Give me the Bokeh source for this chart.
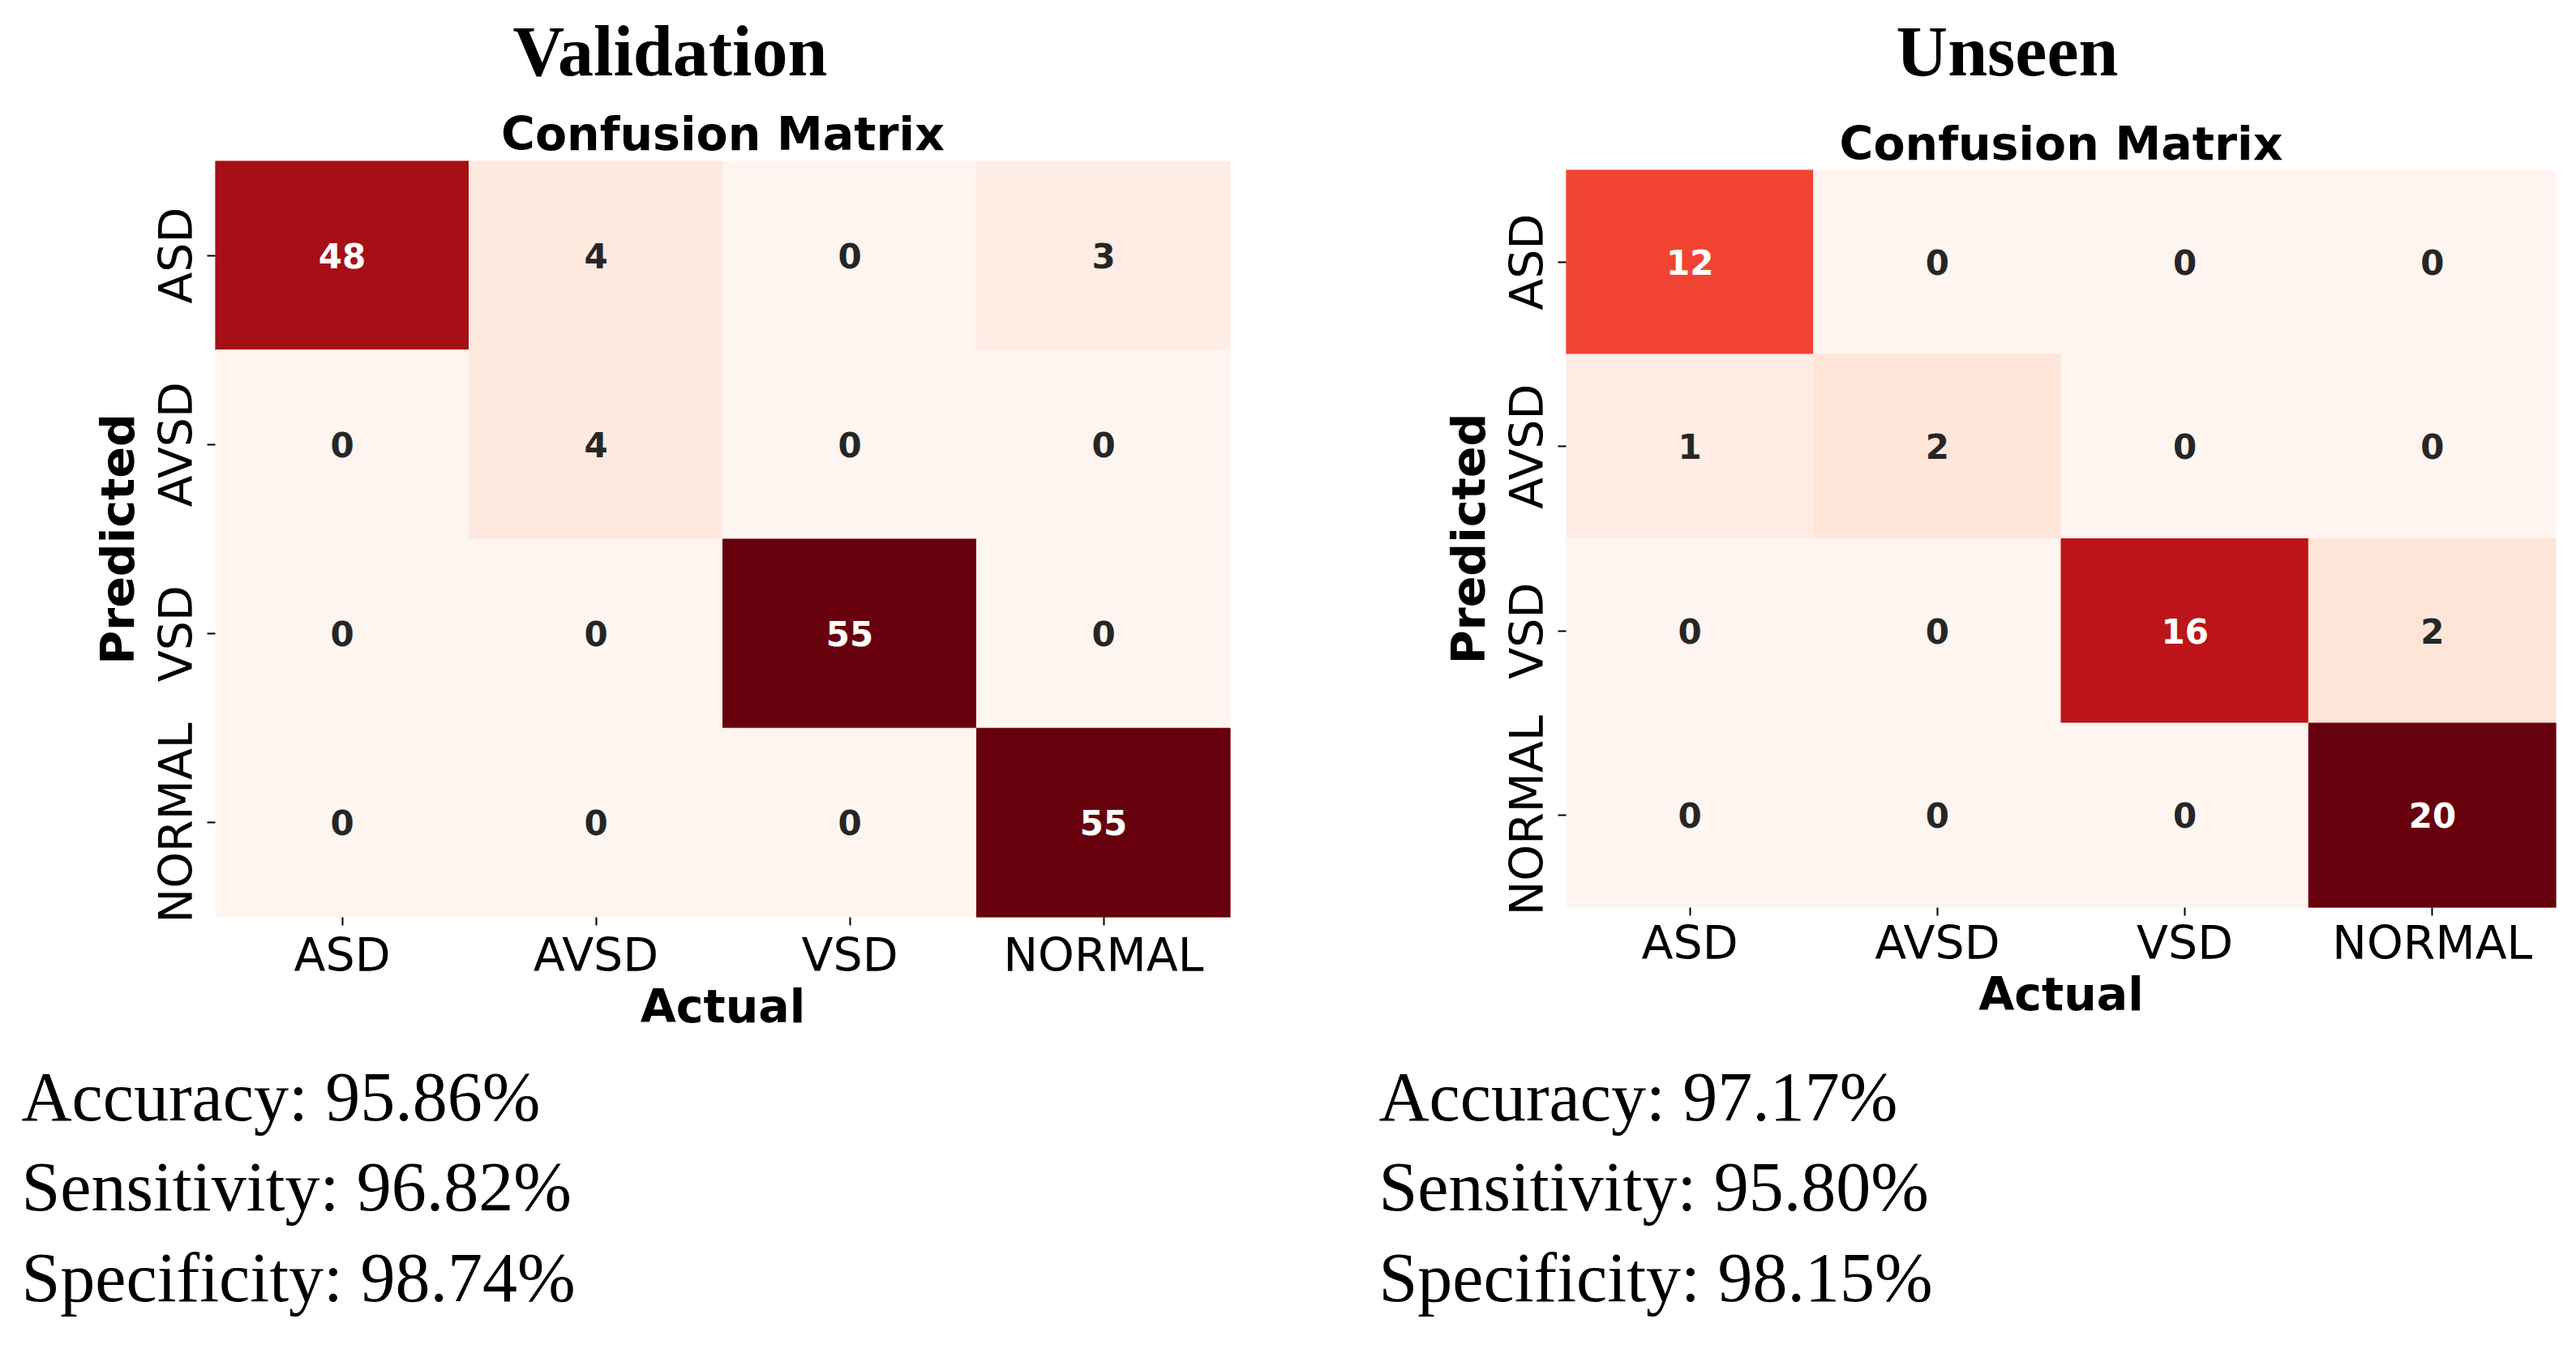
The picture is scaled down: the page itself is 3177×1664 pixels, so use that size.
import numpy as np
from bokeh.plotting import figure
from bokeh.models import ColumnDataSource, LinearColorMapper, Range1d
from bokeh.layouts import row, column
from bokeh.core.properties import value
from bokeh.embed import file_html
from bokeh.resources import INLINE

# ---------------- data ----------------
classes = ["ASD", "AVSD", "VSD", "NORMAL"]

# rows = predicted, columns = actual
validation_counts = [
    [48, 4, 0, 3],
    [0, 4, 0, 0],
    [0, 0, 55, 0],
    [0, 0, 0, 55],
]
unseen_counts = [
    [12, 0, 0, 0],
    [1, 2, 0, 0],
    [0, 0, 16, 2],
    [0, 0, 0, 20],
]
validation_stats = ["Accuracy: 95.86%", "Sensitivity: 96.82%", "Specificity: 98.74%"]
unseen_stats = ["Accuracy: 97.17%", "Sensitivity: 95.80%", "Specificity: 98.15%"]
panel_titles = ["Validation", "Unseen"]
matrix_title = "Confusion Matrix"

# ---------------- colour map (matplotlib "Reds") ----------------
REDS = ["#fff5f0", "#fee0d2", "#fcbba1", "#fc9272", "#fb6a4a",
        "#ef3b2c", "#cb181d", "#a50f15", "#67000d"]


def hex_to_rgb(h):
    return np.array([int(h[i:i + 2], 16) for i in (1, 3, 5)], dtype=float) / 255.0


ANCH = np.array([hex_to_rgb(h) for h in REDS])
ANCH_POS = np.linspace(0, 1, len(REDS))


def reds_rgb(f):
    return np.array([np.interp(f, ANCH_POS, ANCH[:, k]) for k in range(3)])


def to_hex(rgb):
    return "#%02x%02x%02x" % tuple(int(round(c * 255)) for c in rgb)


PALETTE = [to_hex(reds_rgb(f)) for f in np.linspace(0, 1, 256)]


def rel_lum(rgb):
    c = np.where(rgb <= 0.03928, rgb / 12.92, ((rgb + 0.055) / 1.055) ** 2.4)
    return 0.2126 * c[0] + 0.7152 * c[1] + 0.0722 * c[2]


FONT = "DejaVu Sans"
SERIF = "Liberation Serif"
TOTAL_H = 1660
BASE_SHIFT = 0.345   # empirical baseline correction (fraction of font size)


def base_y(y, size):
    return y - BASE_SHIFT * size


def strip(x0, x1, y0, y1):
    """Blank figure whose data coordinates equal page pixels."""
    f = figure(width=x1 - x0, height=y1 - y0,
               x_range=Range1d(x0, x1), y_range=Range1d(y1, y0),
               output_backend="svg", toolbar_location=None,
               x_axis_type=None, y_axis_type=None, title=None,
               min_border=0, frame_align=False)
    f.outline_line_color = None
    f.background_fill_color = "white"
    f.border_fill_color = "white"
    return f


def make_heatmap(counts, g):
    counts = np.array(counts)
    vmax = counts.max()
    xs, ys, vals, labels, tcols = [], [], [], [], []
    for i, pred in enumerate(classes):
        for j, act in enumerate(classes):
            v = int(counts[i, j])
            xs.append(act)
            ys.append(pred)
            vals.append(v)
            labels.append(str(v))
            lum = rel_lum(reds_rgb(v / vmax))
            tcols.append("#262626" if lum > 0.408 else "#ffffff")
    src = ColumnDataSource(dict(actual=xs, predicted=ys, value=vals,
                                label=labels, tcolor=tcols))
    mapper = LinearColorMapper(palette=PALETTE, low=0, high=vmax)

    width = g["x1"] - g["x0"]
    bl = g["frame_left"] - g["x0"]
    br = width - bl - g["frame_w"]
    p = figure(width=width, height=g["frame_h"] + g["bottom"],
               x_range=classes, y_range=list(reversed(classes)),
               output_backend="svg", toolbar_location=None, title=None,
               min_border_left=bl, min_border_right=br,
               min_border_top=0, min_border_bottom=g["bottom"],
               frame_align=False)
    p.rect(x="actual", y="predicted", width=1, height=1, source=src,
           fill_color={"field": "value", "transform": mapper},
           line_color={"field": "value", "transform": mapper}, line_width=1)
    p.text(x="actual", y="predicted", text="label", source=src,
           text_color="tcolor", text_align="center", text_baseline="middle",
           text_font=value(FONT), text_font_style="bold",
           text_font_size="42px")

    p.outline_line_color = None
    p.xgrid.grid_line_color = None
    p.ygrid.grid_line_color = None
    p.background_fill_color = "white"
    p.border_fill_color = "white"
    for ax in (p.xaxis[0], p.yaxis[0]):
        ax.axis_line_color = None
        ax.major_tick_in = 0
        ax.major_tick_out = 10
        ax.major_tick_line_width = 2
        ax.major_tick_line_color = "#000000"
        ax.minor_tick_line_color = None
        ax.major_label_text_font = FONT
        ax.major_label_text_font_size = "57px"
        ax.major_label_text_color = "#000000"
        ax.axis_label_text_font = FONT
        ax.axis_label_text_font_style = "bold"
        ax.axis_label_text_font_size = "57px"
        ax.axis_label_text_color = "#000000"
    p.xaxis.axis_label = "Actual"
    p.yaxis.axis_label = "Predicted"
    p.xaxis.major_label_standoff = g["xl_standoff"]
    p.xaxis.axis_label_standoff = g["xa_standoff"]
    p.yaxis.major_label_orientation = "vertical"
    p.yaxis.major_label_standoff = 6
    p.yaxis.axis_label_standoff = 3
    return p


def make_panel(title, counts, stats, g):
    x0, x1 = g["x0"], g["x1"]
    top = strip(x0, x1, 0, g["frame_top"])
    top.text(x=[g["title_cx"]], y=[base_y(93, 88)], text=[title],
             text_font=value(SERIF), text_font_style="bold",
             text_font_size="88px", text_color="#000000",
             text_align="center", text_baseline="alphabetic")
    top.text(x=[g["frame_left"] + g["frame_w"] / 2],
             y=[base_y(g["cm_base"], 57)],
             text=[matrix_title], text_font=value(FONT),
             text_font_style="bold", text_font_size="57px",
             text_color="#000000", text_align="center",
             text_baseline="alphabetic")

    heat = make_heatmap(counts, g)

    y_bot = g["frame_top"] + g["frame_h"] + g["bottom"]
    bot = strip(x0, x1, y_bot, TOTAL_H)
    bot.text(x=[g["stats_x"]] * len(stats),
             y=[base_y(1382 + 111.5 * k, 86) for k in range(len(stats))],
             text=stats, text_font=value(SERIF), text_font_size="86px",
             text_color="#000000", text_align="left",
             text_baseline="alphabetic")
    return column(top, heat, bot)


# page geometry in screenshot pixels
g_left = dict(x0=0, x1=1600, frame_left=265, frame_top=198, frame_w=1252,
              frame_h=933, bottom=170, title_cx=826, cm_base=184, stats_x=26,
              xl_standoff=3, xa_standoff=-6)
g_right = dict(x0=1600, x1=3176, frame_left=1931, frame_top=209, frame_w=1221,
               frame_h=910, bottom=170, title_cx=2475, cm_base=196, stats_x=1700,
               xl_standoff=0, xa_standoff=-6)

c1 = make_panel(panel_titles[0], validation_counts, validation_stats, g_left)
c2 = make_panel(panel_titles[1], unseen_counts, unseen_stats, g_right)

layout = row(c1, c2)
open("out.html", "w").write(file_html(layout, INLINE))
